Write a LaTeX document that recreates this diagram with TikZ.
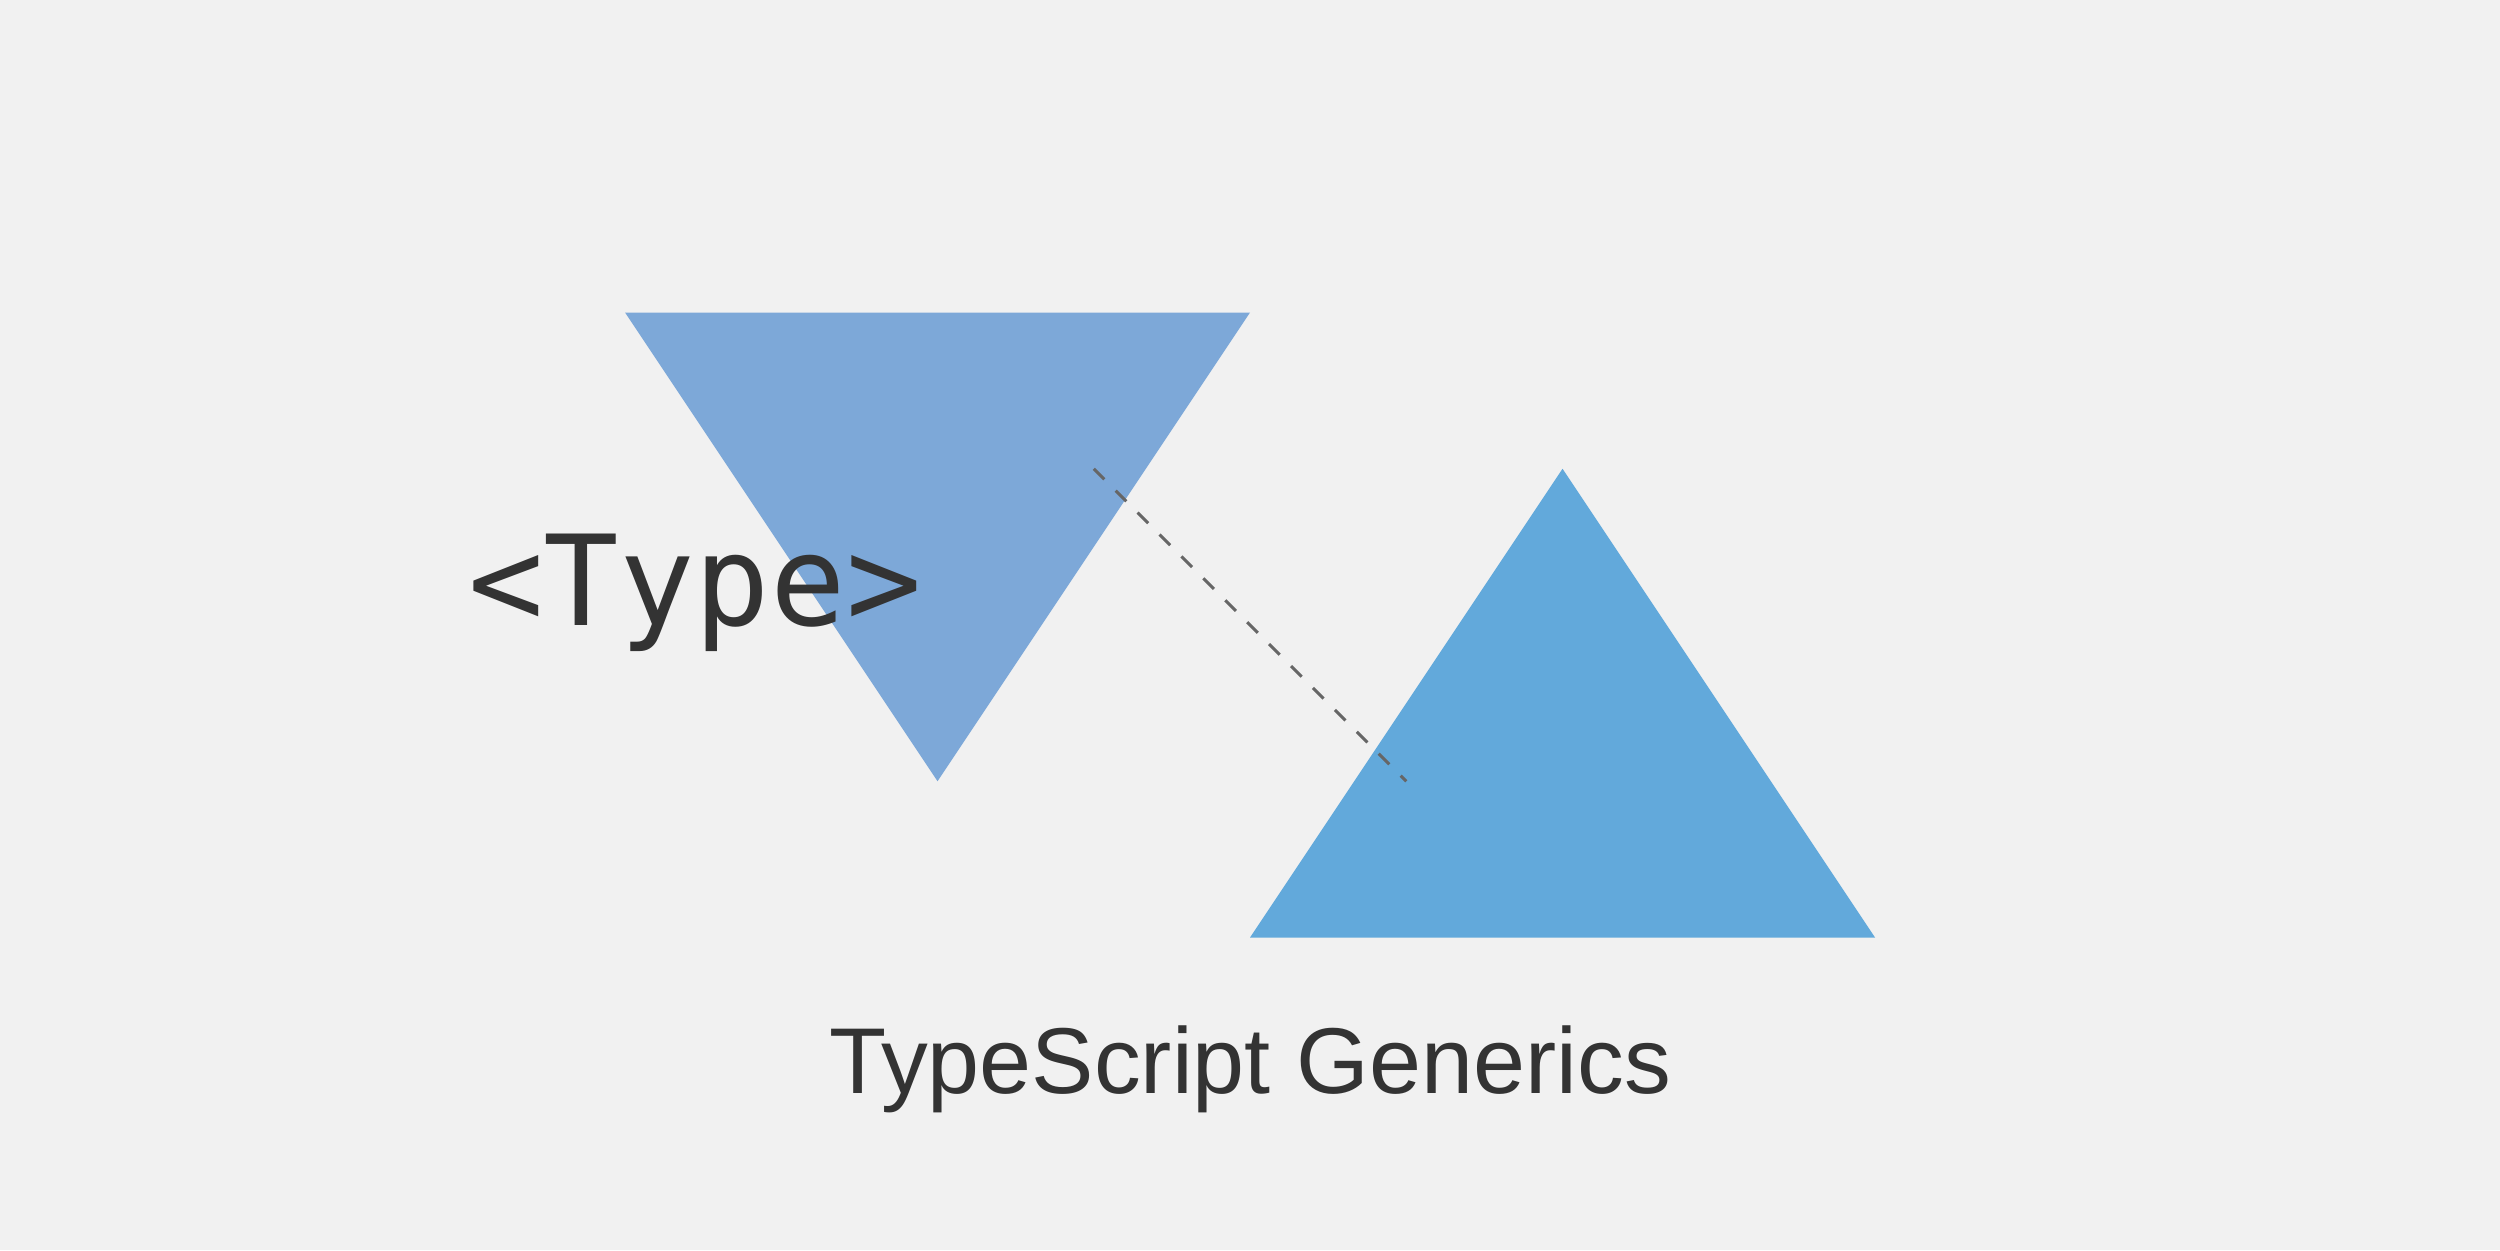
\documentclass[tikz,border=0pt]{standalone}
\usepackage{fontspec}
\setmainfont{Liberation Sans}
\newfontfamily\dejavumono{DejaVu Sans Mono}
\definecolor{bgc}{HTML}{F1F1F1}
\definecolor{triA}{HTML}{7DA8D8}
\definecolor{triB}{HTML}{62A9DB}
\definecolor{txt}{HTML}{333333}
\definecolor{dashc}{HTML}{666666}
\begin{document}
\begin{tikzpicture}[x=1pt,y=-1pt,
  tri/.style={draw=none},
  typelabel/.style={inner sep=0pt,anchor=base,text=txt,font=\dejavumono\fontsize{125.5}{150}\selectfont},
  titlelabel/.style={inner sep=0pt,anchor=base,text=txt,font=\fontsize{93.5}{110}\selectfont},
  link/.style={draw=dashc,line width=3pt,dash pattern=on 15pt off 16pt}]
\fill[bgc] (0,0) rectangle (2500,1250);
\useasboundingbox (0,0) rectangle (2500,1250);
\fill[triA,tri] (625,312.5) -- (1250,312.5) -- (937.5,781.25) -- cycle;
\fill[triB,tri] (1562.5,468.75) -- (1875,937.5) -- (1250,937.5) -- cycle;
\coordinate (ls) at (1093.75,468.75);
\coordinate (le) at (1406.25,781.25);
\draw[link] (ls) -- (le);
\node[typelabel] (type) at (695,625) {<Type>};
\node[titlelabel] (title) at (1250,1093) {TypeScript Generics};
\end{tikzpicture}
\end{document}
